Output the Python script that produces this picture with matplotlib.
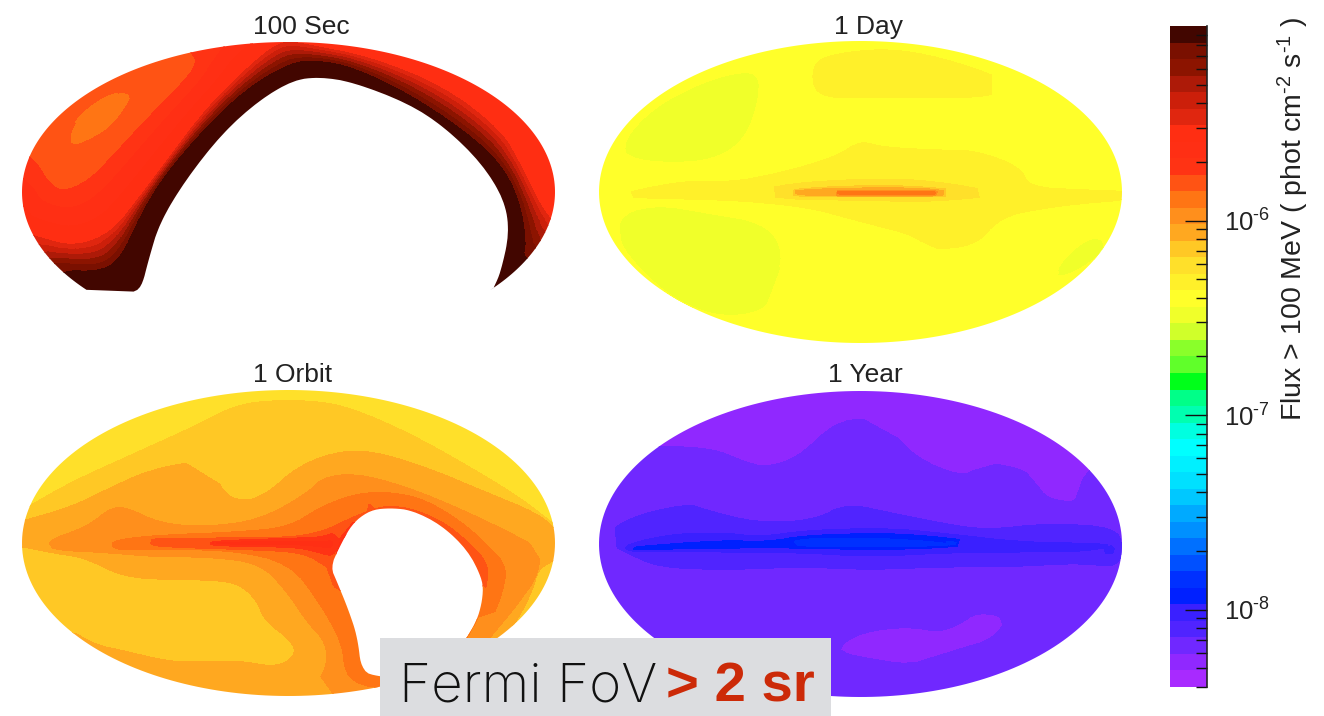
import numpy as np
import matplotlib
matplotlib.use("Agg")
import matplotlib.pyplot as plt
from matplotlib.colors import ListedColormap, BoundaryNorm
from matplotlib.path import Path
from matplotlib.ticker import LogLocator, NullFormatter, FixedLocator, FuncFormatter

plt.rcParams['font.family'] = ['Liberation Sans', 'DejaVu Sans']
plt.rcParams['mathtext.fontset'] = 'custom'
plt.rcParams['mathtext.rm'] = 'Liberation Sans'
plt.rcParams['mathtext.default'] = 'regular'

W, H = 1324, 716

# ---- colour scale (40 log-spaced bands, bottom to top) ----
FLUX_MIN, FLUX_MAX = 4e-9, 1e-5
BAND_COLORS = [
    '#a82aff', '#9028ff', '#7028ff', '#5024ff', '#3a20ff', '#0020ff', '#0030ff', '#0050ff',
    '#0070ff', '#0090ff', '#00aaff', '#00c8ff', '#00e0ff', '#00f0ff', '#00ffff', '#00ffe0',
    '#00ffb0', '#00ff88', '#00ff1a', '#60ff2a', '#8aff2a', '#d0ff2a', '#f0ff2a', '#ffff2a',
    '#fff02a', '#ffe02a', '#ffc825', '#ffa820', '#ff8f1c', '#ff7514', '#ff5314', '#ff3314',
    '#ff2f14', '#ff2e12', '#e0260f', '#cc1f0a', '#ad1a08', '#8c1400', '#7a1000', '#420600']
TITLES = ['100 Sec', '1 Day', '1 Orbit', '1 Year']
CBAR_LABEL = r'Flux > 100 MeV ( phot cm$^{\text{-}2}$ s$^{\text{-}1}$ )'

# ---- sky-map samples: (map x, map y) points read along each colour-band boundary ----
# 100 Sec
sec_hull = [(-267, 150, 30.5), (267, 150, 33), (-267, -150, 39.9), (267, -150, 39.9), (-60, 152, 32), (270, 0, 33.5)]
sec_z30 = [(-218, 59), (-218, 45), (-199, 52), (-177, 65), (-160, 89), (-157, 97), (-170, 100), (-188, 92), (-210, 75)]
sec_z31 = [(-268, 42), (-253, 32), (-240, 9), (-225, 0), (-199, 12), (-177, 35), (-140, 75), (-110, 105), (-90, 129), (-100, 142)]
sec_z34 = [(-266, -40), (-251, -45), (-214, -55), (-177, -41), (-151, -8), (-121, 32), (-81, 85), (-36, 129), (-10, 149), (5, 150),
           (20, 147), (82, 135), (156, 105), (212, 62), (231, 29), (249, -8), (260, -25), (272, -38)]
sec_z39 = [(-243, -83), (-231, -75), (-196, -80), (-170, -71), (-147, -21), (-125, 15), (-88, 59), (-44, 102), (1, 129), (27, 132),
           (64, 125), (119, 99), (175, 62), (212, 29), (231, -8), (238, -51), (234, -65), (247, -70)]
sec_gap = [(205, -96), (212, -81), (221, -41), (216, -8), (193, 29), (156, 65), (119, 89), (64, 110), (31, 115), (5, 112),
           (-29, 92), (-66, 59), (-103, 12), (-129, -31), (-140, -68), (-147, -96), (-158, -101)]

# 1 Day
day_hull = [(-262, 151, 23.5), (262, 151, 23.5), (-262, -151, 23.5), (262, -151, 23.5), (0, 153, 23.5), (0, -153, 23.5), (-264, 0, 23.5)]
day_z23a = [(-235, 52), (-207, 82), (-165, 105), (-130, 117), (-102, 120), (-102, 92), (-116, 52), (-147, 32), (-196, 29), (-235, 35)]
day_z23b = [(-239, -21), (-200, -13), (-155, -21), (-95, -31), (-76, -61), (-91, -101), (-98, -118), (-137, -125), (-183, -108), (-218, -78), (-242, -48)]
day_z23c = [(238, -45), (246, -55), (221, -75), (196, -85), (200, -71), (221, -51)]
day_z24a = [(-49, 129), (-46, 94), (10, 95), (81, 94), (126, 95), (151, 104), (140, 115), (80, 135), (28, 144), (-25, 139)]
day_z24b = [(-235, 0), (-172, 12), (-130, 10), (-81, 19), (-25, 35), (0, 52), (21, 45), (80, 42), (115, 42), (161, 25), (168, 5), (228, 2), (267, 1),
            (267, -8), (228, -11), (186, -16), (140, -25), (115, -55), (63, -58), (59, -45), (-7, -28), (-53, -15), (-130, -8), (-235, -6)]
day_z25 = [(-102, 2), (-60, 10), (28, 14), (80, 10), (126, 2), (158, -1), (115, -6), (63, -10), (-7, -8), (-60, -8), (-102, -3)]
day_z26 = [(-81, 1), (-42, 5), (28, 7), (80, 4), (123, -1), (80, -5), (28, -5), (-42, -5), (-81, -3)]
day_z28 = [(-63, 1), (11, 2), (81, 2), (82, -4), (11, -4), (-63, -2)]
day_ridge_patch = [(-35, 120), (-33, 105), (40, 105), (110, 105), (125, 104), (80, 122), (28, 132)]
day_ridge_west = [(-225, -3), (-170, -1), (-110, 0)]
day_ridge_east = [(172, -5), (225, -4), (262, -4)]
day_ridge_core = [(-22, -1), (30, -1), (76, -1)]
day_ridge_lens = [(-50, 25), (20, 35), (100, 30), (150, 12)]

# 1 Orbit
orb_hull = [(-267, 153, 25.5), (267, 153, 25.5), (-267, -153, 27.5), (267, -153, 26.5), (-270, -45, 26.5), (90, -160, 29.0), (0, 155, 25.5)]
orb_z26 = [(-268, 32), (-218, 61), (-158, 88), (-92, 118), (-58, 136), (-29, 143), (27, 143), (64, 135), (119, 111), (175, 80), (231, 46), (264, 20), (275, 12)]
orb_z27a = [(-268, 22), (-218, 36), (-177, 56), (-140, 73), (-92, 83), (-73, 78), (-66, 50), (-44, 41), (-21, 50), (8, 76), (45, 91), (82, 93),
            (138, 76), (193, 53), (249, 30), (265, 16), (275, 8)]
orb_z27b = [(-266, -4), (-236, -10), (-203, -15), (-166, -34), (-121, -37), (-84, -37), (-51, -40), (-32, -57), (-25, -77), (5, -100), (6, -114),
            (-14, -124), (-51, -117), (-88, -119), (-121, -117), (-162, -107), (-195, -100), (-229, -77), (-240, -85)]
orb_z27c = [(272, -15), (250, -25), (245, -45), (231, -74), (212, -100), (205, -125)]
orb_z28 = [(-240, 3), (-203, 16), (-177, 36), (-162, 36), (-129, 20), (-84, 16), (-29, 23), (19, 50), (34, 66), (68, 70), (119, 56), (175, 33),
           (231, 6), (253, -7), (249, -34), (230, -60), (219, -74), (197, -100), (179, -124), (160, -150),
           (15, -160), (19, -150), (38, -127), (38, -100), (19, -80), (-3, -47), (-29, -20), (-81, -14), (-132, -14), (-177, -10), (-240, -7)]
orb_z29 = [(-177, 3), (-129, 8), (-51, 11), (1, 16), (31, 36), (68, 50), (105, 51), (138, 43), (175, 20), (201, -4), (219, -24), (214, -50), (205, -74), (186, -100),
           (170, -125), (130, -140), (95, -146), (70, -142), (56, -130), (53, -100), (31, -60), (1, -20), (-58, -7), (-132, -7), (-177, -7)]
orb_z30 = [(38, -24), (16, -10), (-29, -7), (-132, -4), (-140, 0), (-140, 5), (-51, 5), (8, 6), (38, 13), (64, 26), (101, 40), (149, 26), (186, -4), (201, -24), (197, -47)]
orb_z31 = [(-81, 2), (8, 5), (34, 6), (53, 13), (47, -14), (31, -10), (8, -4), (-81, -3)]
orb_ridge_edge_w = [(-272, 8), (-246, 0)]
orb_ridge_edge_e = [(276, -3), (258, -4)]
orb_ridge_28 = [(-232, -1), (-182, 0)]
orb_ridge_29 = [(-172, -1), (-145, 0)]
orb_ridge_30 = [(-135, 0), (-87, 0)]
orb_ridge_31 = [(-75, 0), (0, 0), (44, -1)]
orb_gap = [(42, -24, 31), (51, -4, 33), (64, 20, 31), (82, 33, 30.5), (101, 35, 30.5), (123, 33, 30.5), (153, 18, 30.5), (179, -7, 31),
           (193, -34, 30.5), (195, -50, 29.5), (190, -74, 29), (179, -94, 29), (156, -124, 29), (119, -135, 29), (93, -134, 29.3),
           (73, -129, 29.3), (69, -94, 29.3), (60, -67, 29.5), (49, -40, 30.2)]

# 1 Year
yr_hull = [(-262, 153, 1.5), (262, 153, 1.5), (-262, -153, 2.5), (262, -153, 2.5), (-270, 0, 2.5), (270, -5, 2.8), (0, 155, 1.5), (0, -155, 2.5)]
yr_z2a = [(-225, 95), (-203, 99), (-147, 96), (-119, 84), (-95, 77), (-63, 87), (-32, 117), (-7, 127), (28, 124), (38, 104), (66, 81), (108, 67),
          (115, 84), (172, 74), (182, 47), (214, 41), (217, 51), (225, 74), (240, 85)]
yr_z2b = [(-25, -106), (0, -89), (46, -83), (81, -89), (102, -79), (116, -69), (147, -73), (123, -99), (81, -103), (56, -106), (56, -121), (3, -113)]
yr_z3 = [(-232, 27), (-172, 41), (-154, 34), (-102, 21), (-46, 24), (-14, 41), (32, 31), (81, 21), (126, 14), (186, 21), (256, 17), (263, -5), (256, -24),
         (221, -19), (151, -23), (81, -23), (10, -26), (-60, -23), (-130, -26), (-200, -24), (-232, -10), (-260, 5)]
yr_z4 = [(-235, 0), (-183, 11), (-130, 11), (-102, 7), (-53, 14), (28, 16), (81, 11), (161, 2), (221, 1), (260, -1), (221, -8), (161, -8), (81, -9),
         (10, -13), (-53, -9), (-130, -8), (-183, -8), (-235, -8)]
yr_z5 = [(-232, -3), (-137, 4), (-95, 2), (-53, 9), (28, 11), (81, 7), (126, 1), (81, -4), (10, -6), (-53, -4), (-137, -4), (-232, -6)]
yr_z6 = [(-74, 1), (-53, 6), (28, 6), (108, -1), (28, -3), (-53, -3)]
yr_ridge_west = [(-225, -4), (-140, 0), (-74, 0)]
yr_ridge_core = [(-62, 1), (20, 1), (95, 0)]
yr_ridge_east = [(122, -2), (200, -3), (250, -4)]

# ---- layout ----
PANEL_BOX = {'100 Sec': (22, 42, 555, 342), '1 Day': (599, 41, 1122, 343),
             '1 Orbit': (22, 390, 555, 696), '1 Year': (599, 391, 1122, 697)}
TITLE_POS = {'100 Sec': (301, 27), '1 Day': (868, 27), '1 Orbit': (293, 375), '1 Year': (865, 375)}

cmap = ListedColormap(BAND_COLORS)
levels = np.arange(0, 41)
norm = BoundaryNorm(levels, cmap.N)

fig = plt.figure(figsize=(W / 100, H / 100), dpi=100, facecolor='white')


def px_axes(x0, y0, x1, y1):
    return fig.add_axes([x0 / W, 1 - y1 / H, (x1 - x0) / W, (y1 - y0) / H])


def outline(pts, closed, step=4.0):
    """Round the corners of a read boundary and sample it finely, so the triangulation follows it."""
    p = np.array(pts, float)
    for _ in range(2):
        if closed:
            q = np.roll(p, -1, axis=0)
            mid = np.empty((2 * len(p), 2))
            mid[0::2] = 0.75 * p + 0.25 * q
            mid[1::2] = 0.25 * p + 0.75 * q
            p = mid
        else:
            q = p[1:]
            r = p[:-1]
            mid = np.empty((2 * len(r), 2))
            mid[0::2] = 0.75 * r + 0.25 * q
            mid[1::2] = 0.25 * r + 0.75 * q
            p = np.vstack([p[:1], mid, p[-1:]])
    if closed:
        p = np.vstack([p, p[:1]])
    s = np.r_[0, np.cumsum(np.hypot(*np.diff(p, axis=0).T))]
    t = np.arange(0, s[-1], step)
    return np.column_stack([np.interp(t, s, p[:, 0]), np.interp(t, s, p[:, 1])])


def collect(iso, free=()):
    rows = []
    for z, pts, closed in iso:
        # a hair below the band edge: an area enclosed by one boundary takes the lower band
        for x, y in outline(pts, closed):
            rows.append((x, y, z - 0.01))
    rows.extend(free)
    a = np.array(rows, float)
    _, idx = np.unique(np.round(a[:, :2], 2), axis=0, return_index=True)
    a = a[np.sort(idx)]
    return a[:, 0], a[:, 1], a[:, 2]


def ellipse(a, b, t0=0.0, t1=360.0, n=240):
    t = np.radians(np.linspace(t0, t1, n))
    return np.column_stack([a * np.cos(t), b * np.sin(t)])


def draw_map(name, iso, free, clip_fn):
    x0, y0, x1, y1 = PANEL_BOX[name]
    ax = px_axes(x0, y0, x1, y1)
    a, b = (x1 - x0) / 2, (y1 - y0) / 2
    ax.set_xlim(-a, a); ax.set_ylim(-b, b); ax.axis('off')
    xs, ys, zs = collect(iso, free)
    cs = ax.tricontourf(xs, ys, zs, levels=levels, cmap=cmap, norm=norm)
    cs.set_clip_path(clip_fn(a, b), transform=ax.transData)
    tx, ty = TITLE_POS[name]
    fig.text(tx / W, 1 - ty / H, name, ha='center', va='center', fontsize=19, color='#222222')
    return ax


def clip_full(a, b):
    return Path(ellipse(a, b), closed=True)


def clip_sec(a, b):
    arc = ellipse(a, b, 220.7, -40.9)
    return Path(np.vstack([arc, outline(sec_gap, False), arc[:1]]), closed=True)


def clip_orb(a, b):
    outer = ellipse(a, b)
    hole = outline([p[:2] for p in orb_gap], True)
    hole = np.vstack([hole, hole[:1]])
    verts = np.vstack([outer, hole])
    codes = np.full(len(verts), Path.LINETO)
    codes[0] = Path.MOVETO
    codes[len(outer)] = Path.MOVETO
    return Path(verts, codes)


draw_map('100 Sec', [(30, sec_z30, True), (31, sec_z31, False), (34, sec_z34, False), (39, sec_z39, False), (39.9, sec_gap, False)],
         sec_hull, clip_sec)
draw_map('1 Day', [(23, day_z23a, True), (23, day_z23b, True), (23, day_z23c, True), (24, day_z24a, True), (24, day_z24b, True),
                   (25, day_z25, True), (26, day_z26, True), (28, day_z28, True),
                   (24.5, day_ridge_patch, True), (24.5, day_ridge_west, False), (24.5, day_ridge_east, False),
                   (24.5, day_ridge_lens, False), (29.9, day_ridge_core, False)], day_hull, clip_full)
draw_map('1 Orbit', [(26, orb_z26, False), (27, orb_z27a, False), (27, orb_z27b, False), (27, orb_z27c, False), (28, orb_z28, True),
                     (29, orb_z29, True), (30, orb_z30, False), (31, orb_z31, True),
                     (27.5, orb_ridge_edge_w, False), (27.5, orb_ridge_edge_e, False), (28.5, orb_ridge_28, False),
                     (29.5, orb_ridge_29, False), (30.5, orb_ridge_30, False), (32.5, orb_ridge_31, False)],
         orb_hull + orb_gap, clip_orb)
draw_map('1 Year', [(2, yr_z2a, False), (2, yr_z2b, True), (3, yr_z3, True), (4, yr_z4, True), (5, yr_z5, True), (6, yr_z6, True),
                    (5.5, yr_ridge_west, False), (6.6, yr_ridge_core, False), (4.5, yr_ridge_east, False)],
         yr_hull, clip_full)

# ---- colour bar ----
cax = px_axes(1170, 26, 1207, 687)
edges = np.logspace(np.log10(FLUX_MIN), np.log10(FLUX_MAX), 41)
cax.pcolormesh([0, 1], edges, np.arange(40).reshape(-1, 1), cmap=cmap, norm=BoundaryNorm(np.arange(-0.5, 40.5), 40))
cax.set_yscale('log')
cax.set_ylim(FLUX_MIN, FLUX_MAX)
cax.set_xticks([])
for s in ('top', 'left', 'bottom'):
    cax.spines[s].set_visible(False)
cax.spines['right'].set_linewidth(1.2)
cax.spines['right'].set_color('#222222')
cax.yaxis.tick_right()
cax.yaxis.set_major_locator(FixedLocator([1e-8, 1e-7, 1e-6]))
cax.yaxis.set_major_formatter(FuncFormatter(lambda v, p: r'$10^{\text{-}%d}$' % abs(round(np.log10(v)))))
cax.yaxis.set_minor_locator(LogLocator(base=10, subs=np.arange(2, 10), numticks=12))
cax.yaxis.set_minor_formatter(NullFormatter())
cax.tick_params(axis='y', which='major', direction='in', length=16, width=1, color='#111111', labelsize=18.5, pad=12, labelcolor='#222222')
cax.tick_params(axis='y', which='minor', direction='in', length=8, width=1, color='#111111')
fig.text(1293 / W, 1 - 219 / H, CBAR_LABEL, rotation=90, ha='center', va='center', fontsize=20.5, color='#222222')

# ---- caption box ----
box = fig.add_axes([380 / W, 0, 451 / W, 78 / H], zorder=10)
box.set_facecolor('#dcdde0')
box.set_xticks([]); box.set_yticks([])
for s in box.spines.values():
    s.set_visible(False)
fig.text(399 / W, 1 - 701 / H, 'Fermi FoV', fontsize=39.5, family='Inter', weight='light', color='#111111', zorder=11, va='baseline')
fig.text(666 / W, 1 - 701 / H, '> 2 sr', fontsize=40.5, family='Liberation Sans', weight='bold', color='#cc2a08', zorder=11, va='baseline')

fig.savefig('out.png', dpi=100)
